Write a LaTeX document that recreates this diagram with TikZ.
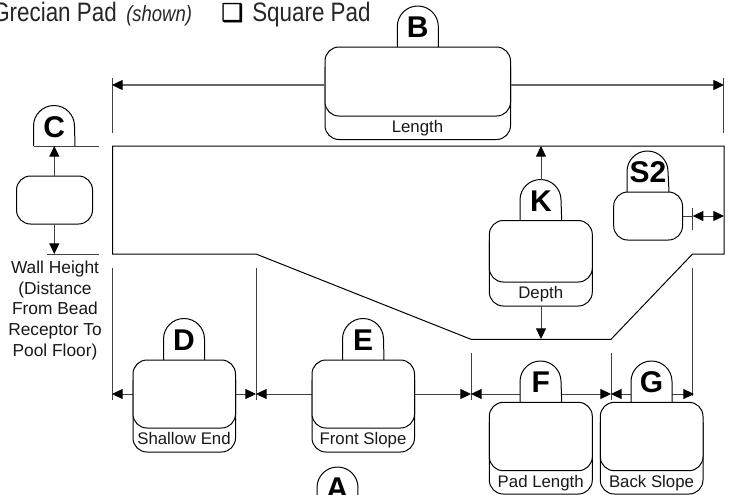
\documentclass[tikz,border=0pt]{standalone}
\usepackage{fontspec}
\setmainfont{Liberation Sans}
\newfontfamily\headfont[FakeStretch=0.84]{Liberation Sans}
\newfontfamily\symfont[FakeBold=1.6]{DejaVu Sans}
\usetikzlibrary{arrows.meta}
\tikzset{
  outl/.style={draw=black,line width=0.75pt},
  thin line/.style={draw=black!75,line width=0.7pt},
  dim/.style={draw=black!60,line width=0.95pt},
  tip/.style={-{Triangle[length=8pt,width=7.5pt,color=black]}},
  letter/.style={font=\fontsize{22.5}{22.5}\selectfont\bfseries,inner sep=0,anchor=center},
  cap text/.style={font=\fontsize{12.6}{12.6}\selectfont,inner sep=0,anchor=center,text=black!90,text height=9pt,text depth=2.5pt},
  head text/.style={anchor=base west,inner sep=0,text=black!85},
}
\newcommand{\inbox}[5]{% name, x0, y0, x1, y1
  \path[outl,rounded corners=10.5pt,fill=white] (#2,#3) rectangle (#4,#5) node[pos=.5] (#1) {};
}
\newcommand{\tabbox}[6]{% name, x0, base, x1, top, text
  \path[outl,fill=white] (#2,#3) -- (#2,#5+20.5) arc[start angle=180,end angle=360,radius=20.5] -- (#4,#3);
  \node[letter] (#1) at ({(#2+#4)/2},#5+21.5) {#6};
}
\newcommand{\capbox}[5]{% x0, top, x1, innerbottom, outerbottom
  \path[outl,rounded corners=10.5pt,fill=white] (#1,#2+20) -- (#1,#5) -- (#3,#5) -- (#3,#2+20);
  \path[outl,rounded corners=10.5pt,fill=white] (#1,#2) rectangle (#3,#4);
}
\begin{document}
\begin{tikzpicture}[x=0.75pt,y=-0.75pt]
\useasboundingbox[fill=white] (0,0) rectangle (735,494);
\clip (0,0) rectangle (735,494);

% header
\node[head text,font=\fontsize{20}{20}\selectfont\headfont] (hd) at (-8,21) {Grecian Pad};
\node[head text,font=\fontsize{16.5}{16.5}\selectfont\headfont\itshape] (sh) at (126,21) {(shown)};
\node[head text,font=\fontsize{18.5}{18.5}\selectfont\symfont,text=black] (cb) at (221,21) {❑};
\node[head text,font=\fontsize{20}{20}\selectfont\headfont] (sq) at (252,21) {Square Pad};

% pool outline
\coordinate (p1) at (112.5,146);
\coordinate (p2) at (724,146);
\coordinate (p3) at (724,254);
\coordinate (p4) at (692.5,254);
\coordinate (p5) at (611,339.3);
\coordinate (p6) at (471,339.3);
\coordinate (p7) at (256,254);
\coordinate (p8) at (112.5,254);
\draw[outl,line join=miter] (p1) -- (p2) -- (p3) -- (p4) -- (p5) -- (p6) -- (p7) -- (p8) -- cycle;

% extension lines
\draw[thin line] (112.5,78) -- (112.5,132.5);
\draw[thin line] (723.5,78) -- (723.5,132.5);
\draw[thin line] (112.5,267.5) -- (112.5,400);
\draw[thin line] (256,267.5) -- (256,400);
\draw[thin line] (471,353) -- (471,400);
\draw[thin line] (611,353) -- (611,400);
\draw[thin line] (692.7,267.5) -- (692.7,396);
\draw[thin line] (47,254) -- (99,254);
\draw[thin line] (692.7,208) -- (692.7,230);

% B
\tabbox{B}{397.3}{47}{438.3}{6}{B}
\capbox{325}{47}{510.5}{116}{139.5}
\node[cap text] (lenT) at (417.5,128.4) {Length};
\coordinate (bl) at (325,85); \coordinate (br) at (510.5,85);
\coordinate (bl2) at (112,85); \coordinate (br2) at (724,85);
\draw[dim,tip] (bl) -- (bl2);
\draw[dim,tip] (br) -- (br2);

% C
\inbox{cb1}{16.5}{176}{92.5}{224}
\tabbox{C}{33.5}{146}{75}{105.5}{C}
\draw[thin line] (33.5,146) -- (99,146);
\draw[thin line,tip] (54.3,176) -- (54.3,146);
\draw[thin line,tip] (54.3,224) -- (54.3,254);
\node[cap text,align=center,font=\fontsize{13}{15.6}\selectfont,text height=,text depth=] (wall) at (55,310.5) {Wall Height\\(Distance\\From Bead\\Receptor To\\Pool Floor)};

% K
\tabbox{K}{520}{220.5}{561.7}{179.5}{K}
\capbox{489.3}{220.5}{592.3}{282}{306}
\node[cap text] (dep) at (540.7,293.7) {Depth};
\draw[thin line,tip] (541,179.5) -- (541,146);
\draw[thin line,tip] (541,306) -- (541,339);

% S2
\tabbox{S2}{627}{192}{669}{151}{S2}
\inbox{s2b}{613.7}{192}{682.5}{240}
\draw[thin line] (682.5,216) -- (693,216);
\draw[thin line,tip] (708,216) -- (692.7,216);
\draw[thin line,tip] (708,216) -- (724,216);

% dimension row
\draw[thin line,tip] (133,394) -- (112,394);
\draw[thin line,tip] (235.5,394) -- (256,394);
\draw[thin line,tip] (312,394) -- (256,394);
\draw[thin line,tip] (414.5,394) -- (471,394);
\draw[thin line,tip] (520,394) -- (471,394);
\draw[thin line,tip] (561.7,394) -- (611,394);
\draw[thin line,tip] (631,394) -- (611,394);
\draw[thin line,tip] (672,394) -- (694,394);

% D
\tabbox{D}{163.5}{360}{204.5}{318.5}{D}
\capbox{133}{360}{235.5}{428}{452}
\node[cap text] (she) at (184,439.7) {Shallow End};

% E
\tabbox{E}{342.5}{360}{384}{318.5}{E}
\capbox{312}{360}{414.5}{428}{452}
\node[cap text] (fs) at (363,439.7) {Front Slope};

% F
\tabbox{F}{520}{402.3}{561.7}{361}{F}
\capbox{489.3}{402.3}{592.3}{470.7}{494}
\node[cap text] (pl) at (540.7,483) {Pad Length};

% G
\tabbox{G}{631}{402.3}{672}{361}{G}
\capbox{600.3}{402.3}{703}{470.7}{494}
\node[cap text] (bs) at (651.5,483) {Back Slope};

% A
\tabbox{A}{317}{510}{357.5}{467}{A}
\end{tikzpicture}
\end{document}
